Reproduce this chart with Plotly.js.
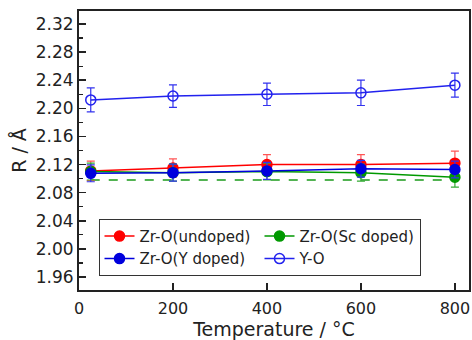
<!DOCTYPE html>
<html><head><meta charset="utf-8">
<script src="https://cdn.plot.ly/plotly-3.0.1.min.js"></script>
<style>body{margin:0;background:#fff}#c{width:472px;height:340px}</style>
</head><body><div id="c"></div>
<script>
const temps = [25, 200, 400, 600, 800];
const zrUndoped = [2.111, 2.115, 2.120, 2.120, 2.122];
const zrUndopedErr = [0.014, 0.013, 0.014, 0.014, 0.017];
const zrSc = [2.110, 2.1085, 2.110, 2.1085, 2.102];
const zrScErr = [0.012, 0.012, 0.012, 0.012, 0.014];
const zrY = [2.1075, 2.1085, 2.111, 2.114, 2.113];
const zrYErr = [0.012, 0.012, 0.012, 0.012, 0.012];
const yo = [2.212, 2.2175, 2.220, 2.222, 2.233];
const yoErr = [0.017, 0.016, 0.016, 0.018, 0.017];
const scRef = [2.098, 2.098, 2.098, 2.098, 2.098];

function tr(name, y, err, color, ecolor, symbol){
  return {x: temps, y: y, name: name, type: 'scatter', mode: 'lines+markers',
    line: {color: color, width: 1.5},
    marker: {color: color, size: 10, symbol: symbol, line: {color: color, width: 1.5}},
    error_y: {type: 'data', array: err, visible: true, color: ecolor, thickness: 1.2, width: 4}};
}
const data = [
  {x: temps, y: scRef, type: 'scatter', mode: 'lines', showlegend: false,
   line: {color: '#1a9a1a', width: 1.5, dash: 'dash'}, hoverinfo: 'skip'},
  tr('Zr-O(undoped)', zrUndoped, zrUndopedErr, '#ff0000', '#ff5555', 'circle'),
  tr('Zr-O(Sc doped)', zrSc, zrScErr, '#009900', '#33aa33', 'circle'),
  tr('Zr-O(Y doped)', zrY, zrYErr, '#0000dd', '#3333ee', 'circle'),
  tr('Y-O', yo, yoErr, '#2222ee', '#3333ee', 'circle-open')
];
const F = 'DejaVu Sans, sans-serif';
const layout = {
  width: 472, height: 340,
  margin: {l: 79, r: 3, t: 11, b: 50},
  paper_bgcolor: '#fff', plot_bgcolor: '#fff',
  font: {family: F, color: '#222'},
  showlegend: true,
  legend: {orientation: 'h', x: 0.05, y: 0.255, xanchor: 'left', yanchor: 'top',
    bordercolor: '#333', borderwidth: 1, bgcolor: '#fff',
    font: {family: F, size: 15, color: '#222'}, entrywidth: 115, entrywidthmode: 'pixels',
    traceorder: 'normal', tracegroupgap: 0, itemwidth: 30},
  xaxis: {range: [0, 830], tickvals: [0, 200, 400, 600, 800],
    ticks: 'inside', ticklen: 7, tickwidth: 1.5, tickcolor: '#222',
    showline: true, linecolor: '#222', linewidth: 2, mirror: true,
    showgrid: false, zeroline: false, tickfont: {family: F, size: 16, color: '#222'},
    ticklabelstandoff: 3,
    title: {text: 'Temperature / °C', font: {family: F, size: 19, color: '#222'}, standoff: 0}},
  yaxis: {range: [1.9415, 2.3385], tickvals: [1.96, 2.00, 2.04, 2.08, 2.12, 2.16, 2.20, 2.24, 2.28, 2.32],
    ticktext: ['1.96','2.00','2.04','2.08','2.12','2.16','2.20','2.24','2.28','2.32'],
    ticks: 'inside', ticklen: 7, tickwidth: 1.5, tickcolor: '#222',
    minor: {dtick: 0.02, tick0: 1.96, ticks: 'inside', ticklen: 4, tickwidth: 1.2, tickcolor: '#222'},
    showline: true, linecolor: '#222', linewidth: 2, mirror: true,
    showgrid: false, zeroline: false, tickfont: {family: F, size: 17, color: '#222'},
    title: {text: 'R / Å', font: {family: F, size: 19, color: '#222'}, standoff: 4}}
};
Plotly.newPlot('c', data, layout, {staticPlot: true, displayModeBar: false});
</script></body></html>
